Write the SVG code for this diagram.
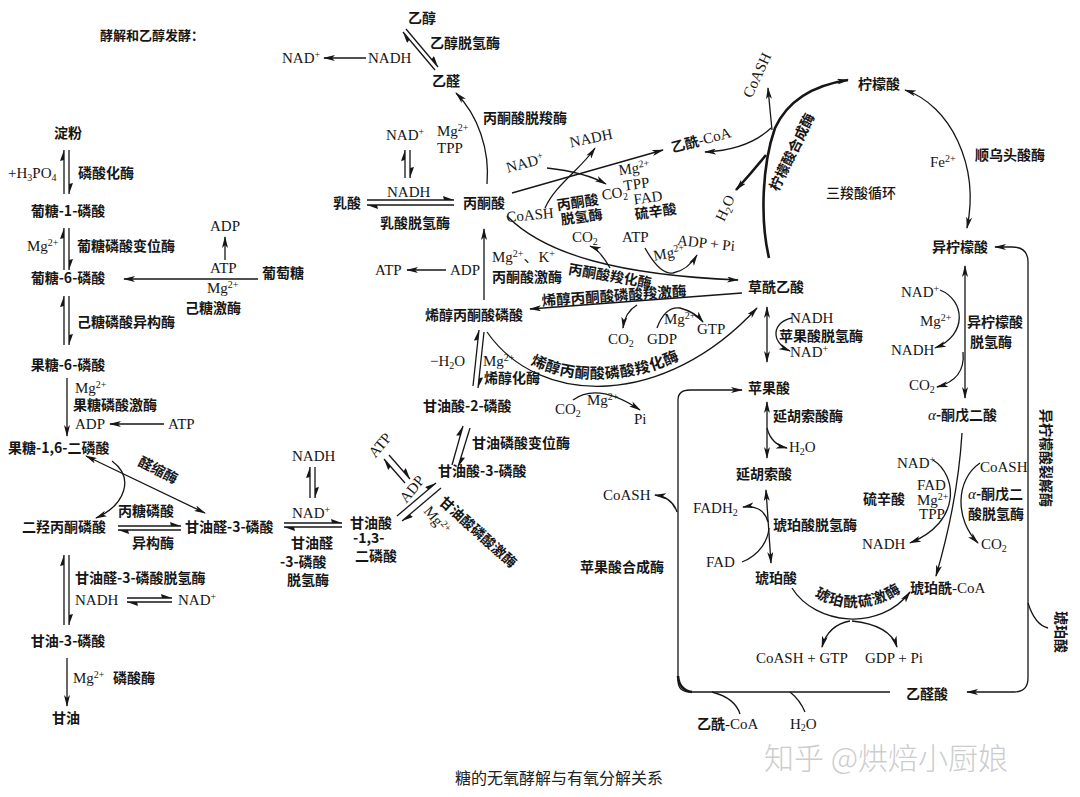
<svg xmlns="http://www.w3.org/2000/svg" width="1080" height="797" viewBox="0 0 1080 797">
<style>
.c{font-family:"Noto Sans CJK SC","Noto Sans",sans-serif;font-size:14px;font-weight:700;fill:#161616}
.l{font-family:"Liberation Serif","Noto Sans CJK SC",serif;font-size:15px;fill:#161616;font-weight:400}
.s{font-size:10px}
.m{text-anchor:middle}
.ln{fill:none;stroke:#161616;stroke-width:1.3}
.tk{fill:none;stroke:#161616;stroke-width:2.6}
.wm{font-family:"Noto Sans CJK SC",sans-serif;font-size:30px;font-weight:300;fill:#cdcdcd}
.cap{font-family:"Noto Sans CJK SC",sans-serif;font-size:16px;font-weight:400;fill:#222}
</style>
<defs>
<marker id="a" viewBox="0 0 12 6" refX="11" refY="3" markerWidth="12" markerHeight="6" markerUnits="userSpaceOnUse" orient="auto-start-reverse"><path d="M0,0 L12,3 L0,6 L3,3 Z" fill="#161616"/></marker>
<marker id="h" viewBox="0 0 11 5" refX="11" refY="4" markerWidth="11" markerHeight="5" markerUnits="userSpaceOnUse" orient="auto"><path d="M0,0 L11,4 L1,4 Z" fill="#161616"/></marker>
<path id="tp1" d="M487,329 C540,399 665,399 757,305"/>
<path id="tp2" d="M800,582 C822,614 882,618 916,578"/>
</defs>

<g id="connectors">
<path class="ln" d="M64,194 V150" marker-end="url(#h)"/>
<path class="ln" d="M69,150 V194" marker-end="url(#h)"/>
<path class="ln" d="M64,270 V228" marker-end="url(#h)"/>
<path class="ln" d="M69,228 V270" marker-end="url(#h)"/>
<path class="ln" d="M64,345 V296" marker-end="url(#h)"/>
<path class="ln" d="M69,296 V345" marker-end="url(#h)"/>
<path class="ln" d="M67,378 V436" marker-end="url(#a)"/>
<path class="ln" d="M164,424 H110" marker-end="url(#a)"/>
<path class="ln" d="M258,279 H124" marker-end="url(#a)"/>
<path class="ln" d="M225,260 V237" marker-end="url(#a)"/>
<path class="ln" d="M205,513 L86,456" marker-start="url(#a)" marker-end="url(#a)"/>
<path class="ln" d="M112,461 C135,478 125,505 96,518" marker-end="url(#a)"/>
<path class="ln" d="M118,526 H181" marker-end="url(#h)"/>
<path class="ln" d="M181,530 H118" marker-end="url(#h)"/>
<path class="ln" d="M127,598 H172" marker-end="url(#h)"/>
<path class="ln" d="M172,602 H127" marker-end="url(#h)"/>
<path class="ln" d="M64,625 V555" marker-end="url(#h)"/>
<path class="ln" d="M69,555 V625" marker-end="url(#h)"/>
<path class="ln" d="M67,658 V706" marker-end="url(#a)"/>
<path class="ln" d="M406,29 L438,67" marker-end="url(#h)"/>
<path class="ln" d="M435,70 L403,32" marker-end="url(#h)"/>
<path class="ln" d="M366,58 H324" marker-end="url(#a)"/>
<path class="ln" d="M487,184 C490,150 478,115 456,93" marker-end="url(#a)"/>
<path class="ln" d="M405,178 V150" marker-end="url(#h)"/>
<path class="ln" d="M410,150 V178" marker-end="url(#h)"/>
<path class="ln" d="M367,200 H454" marker-end="url(#h)"/>
<path class="ln" d="M454,205 H367" marker-end="url(#h)"/>
<path class="ln" d="M446,270 H407" marker-end="url(#a)"/>
<path class="ln" d="M484,300 V229" marker-end="url(#a)"/>
<path class="ln" d="M512,193 L663,150" marker-end="url(#a)"/>
<path class="ln" d="M547,168 C565,170 590,175 606,184" marker-end="url(#a)"/>
<path class="ln" d="M545,208 C555,185 580,170 595,148" marker-end="url(#a)"/>
<path class="ln" d="M507,216 C545,255 620,275 738,280" marker-end="url(#a)"/>
<path class="ln" d="M610,268 Q600,250 590,246" marker-end="url(#a)"/>
<path class="ln" d="M645,248 Q660,275 673,273 Q688,270 697,255" marker-end="url(#a)"/>
<path class="ln" d="M742,293 L530,309" marker-end="url(#a)"/>
<path class="ln" d="M637,305 Q625,312 623,328" marker-end="url(#a)"/>
<path class="ln" d="M657,328 Q665,306 680,308 Q695,312 703,322" marker-end="url(#a)"/>
<path class="ln" d="M487,332 C540,408 665,408 757,308" marker-end="url(#a)"/>
<path class="ln" d="M573,400 Q598,382 640,410" marker-end="url(#a)"/>
<path class="ln" d="M473,386 L479,330" marker-end="url(#h)"/>
<path class="ln" d="M484,332 L478,388" marker-end="url(#h)"/>
<path class="ln" d="M452,465 L463,426" marker-end="url(#h)"/>
<path class="ln" d="M470,428 L458,467" marker-end="url(#h)"/>
<path class="ln" d="M389,455 L410,479" marker-end="url(#h)"/>
<path class="ln" d="M405,483 L384,459" marker-end="url(#h)"/>
<path class="ln" d="M397,516 L436,483" marker-end="url(#h)"/>
<path class="ln" d="M441,488 L402,521" marker-end="url(#h)"/>
<path class="ln" d="M310,498 V467" marker-end="url(#h)"/>
<path class="ln" d="M315,467 V498" marker-end="url(#h)"/>
<path class="ln" d="M284,523 H342" marker-end="url(#h)"/>
<path class="ln" d="M342,527 H284" marker-end="url(#h)"/>
<path class="ln" d="M771,128 Q748,150 705,152" marker-end="url(#a)"/>
<path class="tk" d="M769,258 C760,220 762,165 775,128 C788,100 815,85 848,80" marker-end="url(#a)"/>
<path class="ln" d="M772,130 Q770,110 768,88" marker-end="url(#a)"/>
<path class="tk" d="M766,155 Q752,172 736,190" marker-end="url(#a)"/>
<path class="ln" d="M905,90 C950,105 980,165 967,228" marker-start="url(#a)" marker-end="url(#a)"/>
<path class="ln" d="M965,266 V398" marker-start="url(#a)" marker-end="url(#a)"/>
<path class="ln" d="M940,290 C965,300 968,335 935,348" marker-end="url(#a)"/>
<path class="ln" d="M963,352 C965,372 955,382 937,387" marker-end="url(#a)"/>
<path class="ln" d="M962,433 Q958,500 936,576" marker-end="url(#a)"/>
<path class="ln" d="M933,460 C957,475 962,522 910,543" marker-end="url(#a)"/>
<path class="ln" d="M980,463 C955,480 955,520 978,543" marker-end="url(#a)"/>
<path class="ln" d="M792,588 C815,625 880,632 910,592" marker-end="url(#a)"/>
<path class="ln" d="M850,621 Q828,625 822,647" marker-end="url(#a)"/>
<path class="ln" d="M852,621 Q890,625 897,647" marker-end="url(#a)"/>
<path class="ln" d="M771,563 L766,490" marker-start="url(#a)" marker-end="url(#a)"/>
<path class="ln" d="M768,522 C765,510 755,505 743,507" marker-end="url(#a)"/>
<path class="ln" d="M742,562 C760,555 768,540 769,528"/>
<path class="ln" d="M767,458 V402" marker-start="url(#a)" marker-end="url(#a)"/>
<path class="ln" d="M767,428 C770,440 778,446 787,448" marker-end="url(#a)"/>
<path class="ln" d="M767,362 V307" marker-start="url(#a)" marker-end="url(#a)"/>
<path class="ln" d="M792,318 C772,322 770,342 790,351" marker-end="url(#a)"/>
<path class="ln" d="M890,692 H690 Q678,692 678,680 V400 Q678,390 690,390 H742" marker-end="url(#a)"/>
<path class="tk" d="M678,676 Q679,690 692,692"/>
<path class="ln" d="M677,512 Q672,497 655,495" marker-end="url(#a)"/>
<path class="ln" d="M712,692 Q735,698 740,714"/>
<path class="ln" d="M790,692 Q800,700 805,712"/>
<path class="ln" d="M995,247 H1012 Q1028,247 1028,262 V678 Q1028,692 1014,692 H967" marker-start="url(#a)" marker-end="url(#a)"/>
<path class="ln" d="M1028,603 Q1035,625 1048,628"/>
</g>

<g id="title"><text class="c" x="100" y="40" style="font-size:13px">酵解和乙醇发酵：</text></g>

<g id="n-starch"><text class="c m" x="68" y="138">淀粉</text></g>
<g id="e-phosphorylase"><text class="l" x="8" y="178">+H<tspan class="s" baseline-shift="-3">3</tspan>PO<tspan class="s" baseline-shift="-3">4</tspan></text><text class="c" x="78" y="178">磷酸化酶</text></g>
<g id="n-g1p"><text class="c m" x="68" y="216">葡糖-1-磷酸</text></g>
<g id="e-pgm"><text class="l" x="27" y="251">Mg<tspan class="s" baseline-shift="super">2+</tspan></text><text class="c" x="77" y="251">葡糖磷酸变位酶</text></g>
<g id="n-g6p"><text class="c m" x="68" y="283">葡糖-6-磷酸</text></g>
<g id="n-glucose"><text class="c" x="262" y="278">葡萄糖</text></g>
<g id="e-hexokinase"><text class="l" x="210" y="273">ATP</text><text class="l" x="207" y="293">Mg<tspan class="s" baseline-shift="super">2+</tspan></text><text class="c" x="185" y="313">己糖激酶</text><text class="l" x="210" y="231">ADP</text></g>
<g id="e-pgi"><text class="c" x="77" y="327">己糖磷酸异构酶</text></g>
<g id="n-f6p"><text class="c m" x="68" y="370">果糖-6-磷酸</text></g>
<g id="e-pfk"><text class="l" x="75" y="393">Mg<tspan class="s" baseline-shift="super">2+</tspan></text><text class="c" x="73" y="410">果糖磷酸激酶</text><text class="l" x="75" y="429">ADP</text><text class="l" x="168" y="429">ATP</text></g>
<g id="n-fbp"><text class="c" x="8" y="453">果糖-1,6-二磷酸</text></g>
<g id="e-aldolase"><text class="c m" x="158" y="475" transform="rotate(27 158 470)">醛缩酶</text></g>
<g id="e-tpi"><text class="c" x="118" y="516">丙糖磷酸</text><text class="c" x="132" y="548">异构酶</text></g>
<g id="n-dhap"><text class="c" x="22" y="532">二羟丙酮磷酸</text></g>
<g id="n-gap"><text class="c" x="185" y="532">甘油醛-3-磷酸</text></g>
<g id="e-g3pdh"><text class="c" x="75" y="583">甘油醛-3-磷酸脱氢酶</text><text class="l" x="75" y="605">NADH</text><text class="l" x="178" y="605">NAD<tspan class="s" baseline-shift="super">+</tspan></text></g>
<g id="n-g3p"><text class="c m" x="68" y="646">甘油-3-磷酸</text></g>
<g id="e-phosphatase"><text class="l" x="73" y="683">Mg<tspan class="s" baseline-shift="super">2+</tspan></text><text class="c" x="113" y="683">磷酸酶</text></g>
<g id="n-glycerol"><text class="c" x="52" y="723">甘油</text></g>

<g id="n-ethanol"><text class="c" x="408" y="23">乙醇</text></g>
<g id="e-adh"><text class="c" x="430" y="48">乙醇脱氢酶</text><text class="l" x="282" y="63">NAD<tspan class="s" baseline-shift="super">+</tspan></text><text class="l" x="368" y="63">NADH</text></g>
<g id="n-acetaldehyde"><text class="c" x="432" y="86">乙醛</text></g>
<g id="e-pdc"><text class="c" x="483" y="123">丙酮酸脱羧酶</text><text class="l" x="437" y="136">Mg<tspan class="s" baseline-shift="super">2+</tspan></text><text class="l" x="437" y="153">TPP</text></g>
<g id="e-ldh"><text class="l" x="386" y="140">NAD<tspan class="s" baseline-shift="super">+</tspan></text><text class="l" x="387" y="197">NADH</text><text class="c" x="380" y="228">乳酸脱氢酶</text></g>
<g id="n-lactate"><text class="c" x="333" y="208">乳酸</text></g>
<g id="n-pyruvate"><text class="c" x="463" y="208">丙酮酸</text></g>
<g id="e-pk"><text class="l" x="375" y="275">ATP</text><text class="l" x="450" y="275">ADP</text><text class="l" x="492" y="262">Mg<tspan class="s" baseline-shift="super">2+</tspan>、K<tspan class="s" baseline-shift="super">+</tspan></text><text class="c" x="492" y="282">丙酮酸激酶</text></g>
<g id="n-pep"><text class="c" x="425" y="320">烯醇丙酮酸磷酸</text></g>
<g id="e-enolase"><text class="l" x="430" y="366">−H<tspan class="s" baseline-shift="-3">2</tspan>O</text><text class="l" x="483" y="366">Mg<tspan class="s" baseline-shift="super">2+</tspan></text><text class="c" x="484" y="383">烯醇化酶</text></g>
<g id="n-2pg"><text class="c" x="423" y="411">甘油酸-2-磷酸</text></g>
<g id="e-pgam"><text class="c" x="472" y="448">甘油磷酸变位酶</text></g>
<g id="n-3pg"><text class="c" x="438" y="476">甘油酸-3-磷酸</text></g>
<g id="e-pgk"><text class="l m" x="380" y="450" transform="rotate(-50 380 445)">ATP</text><text class="l m" x="412" y="494" transform="rotate(-50 412 489)">ADP</text><text class="c m" x="478" y="537" transform="rotate(42 478 532)">甘油酸磷酸激酶</text><text class="l m" x="437" y="525" transform="rotate(50 437 520)">Mg<tspan class="s" baseline-shift="super">2+</tspan></text></g>
<g id="n-13bpg"><text class="c" x="350" y="528">甘油酸</text><text class="c" x="353" y="543">-1,3-</text><text class="c" x="355" y="561">二磷酸</text></g>
<g id="e-gapdh"><text class="l" x="292" y="461">NADH</text><text class="l" x="292" y="518">NAD<tspan class="s" baseline-shift="super">+</tspan></text><text class="c" x="291" y="548">甘油醛</text><text class="c" x="280" y="567">-3-磷酸</text><text class="c" x="287" y="585">脱氢酶</text></g>

<g id="n-acetylcoa"><text class="c m" x="701" y="145" transform="rotate(-15 701 140)">乙酰<tspan class="l">-CoA</tspan></text></g>
<g id="e-pdh"><text class="l m" x="525" y="168" transform="rotate(-15 525 163)">NAD<tspan class="s" baseline-shift="super">+</tspan></text><text class="l m" x="591" y="143" transform="rotate(-12 591 138)">NADH</text><text class="l m" x="530" y="220" transform="rotate(-5 530 215)">CoASH</text>
<g transform="rotate(-8 630 195)"><text class="c" x="556" y="200">丙酮酸</text><text class="c" x="558" y="215">脱氢酶</text><text class="l" x="602" y="196">CO<tspan class="s" baseline-shift="-3">2</tspan></text><text class="l" x="625" y="190">TPP</text><text class="l" x="622" y="174">Mg<tspan class="s" baseline-shift="super">2+</tspan></text><text class="l" x="633" y="205">FAD</text><text class="c" x="632" y="220">硫辛酸</text></g></g>
<g id="e-pc"><text class="c m" x="610" y="281" transform="rotate(10 610 276)">丙酮酸羧化酶</text><text class="l" x="572" y="242">CO<tspan class="s" baseline-shift="-3">2</tspan></text><text class="l" x="622" y="242">ATP</text><text class="l m" x="706" y="248" transform="rotate(6 706 243)">ADP + Pi</text><text class="l m" x="669" y="258" transform="rotate(-10 669 253)">Mg<tspan class="s" baseline-shift="super">2+</tspan></text></g>
<g id="n-oaa"><text class="c" x="748" y="292">草酰乙酸</text></g>
<g id="e-pepck"><text class="c m" x="614" y="301" transform="rotate(-4 614 296)" style="font-size:14.5px">烯醇丙酮酸磷酸羧激酶</text><text class="l" x="608" y="344">CO<tspan class="s" baseline-shift="-3">2</tspan></text><text class="l" x="647" y="344">GDP</text><text class="l" x="664" y="324">Mg<tspan class="s" baseline-shift="super">2+</tspan></text><text class="l" x="697" y="334">GTP</text></g>
<g id="e-pepc"><text class="c" style="font-size:15px;letter-spacing:0.5px"><textPath href="#tp1" startOffset="56">烯醇丙酮酸磷酸羧化酶</textPath></text><text class="l" x="555" y="414">CO<tspan class="s" baseline-shift="-3">2</tspan></text><text class="l" x="587" y="405">Mg<tspan class="s" baseline-shift="super">2+</tspan></text><text class="l" x="634" y="424">Pi</text></g>

<g id="e-cs"><text class="l m" x="757" y="80" transform="rotate(-65 757 75)">CoASH</text><text class="l m" x="725" y="213" transform="rotate(-65 725 208)">H<tspan class="s" baseline-shift="-3">2</tspan>O</text><text class="c m" x="792" y="157" transform="rotate(-64 792 152)">柠檬酸合成酶</text></g>
<g id="n-citrate"><text class="c" x="858" y="89">柠檬酸</text></g>
<g id="e-aconitase"><text class="l" x="930" y="167">Fe<tspan class="s" baseline-shift="super">2+</tspan></text><text class="c" x="975" y="160">顺乌头酸酶</text></g>
<g id="lbl-tca"><text class="c" x="826" y="198" style="font-weight:500">三羧酸循环</text></g>
<g id="n-isocitrate"><text class="c" x="932" y="252">异柠檬酸</text></g>
<g id="e-idh"><text class="l" x="901" y="297">NAD<tspan class="s" baseline-shift="super">+</tspan></text><text class="l" x="920" y="326">Mg<tspan class="s" baseline-shift="super">2+</tspan></text><text class="l" x="891" y="355">NADH</text><text class="l" x="909" y="390">CO<tspan class="s" baseline-shift="-3">2</tspan></text><text class="c" x="967" y="327">异柠檬酸</text><text class="c" x="970" y="347">脱氢酶</text></g>
<g id="n-akg"><text class="c" x="928" y="420"><tspan class="l" style="font-style:italic">α</tspan>-酮戊二酸</text></g>
<g id="e-akgdh"><text class="l" x="897" y="468">NAD<tspan class="s" baseline-shift="super">+</tspan></text><text class="l" x="917" y="490">FAD</text><text class="c" x="863" y="504">硫辛酸</text><text class="l" x="917" y="505">Mg<tspan class="s" baseline-shift="super">2+</tspan></text><text class="l" x="919" y="519">TPP</text><text class="l" x="980" y="472">CoASH</text><text class="c" x="968" y="499"><tspan class="l" style="font-style:italic">α</tspan>-酮戊二</text><text class="c" x="968" y="519">酸脱氢酶</text><text class="l" x="862" y="549">NADH</text><text class="l" x="981" y="549">CO<tspan class="s" baseline-shift="-3">2</tspan></text></g>
<g id="n-succoa"><text class="c" x="910" y="593">琥珀酰<tspan class="l">-CoA</tspan></text></g>
<g id="e-scs"><text class="c" style="font-size:14.5px;letter-spacing:1px"><textPath href="#tp2" startOffset="20">琥珀酰硫激酶</textPath></text><text class="l" x="756" y="663">CoASH + GTP</text><text class="l" x="865" y="663">GDP + Pi</text></g>
<g id="n-succinate"><text class="c" x="755" y="583">琥珀酸</text></g>
<g id="e-sdh"><text class="l" x="693" y="513">FADH<tspan class="s" baseline-shift="-3">2</tspan></text><text class="c" x="773" y="530">琥珀酸脱氢酶</text><text class="l" x="706" y="567">FAD</text></g>
<g id="n-fumarate"><text class="c" x="736" y="479">延胡索酸</text></g>
<g id="e-fumarase"><text class="c" x="773" y="421">延胡索酸酶</text><text class="l" x="789" y="452">H<tspan class="s" baseline-shift="-3">2</tspan>O</text></g>
<g id="n-malate"><text class="c" x="748" y="393">苹果酸</text></g>
<g id="e-mdh"><text class="l" x="790" y="323">NADH</text><text class="c" x="779" y="341">苹果酸脱氢酶</text><text class="l" x="790" y="357">NAD<tspan class="s" baseline-shift="super">+</tspan></text></g>
<g id="e-ms"><text class="l" x="603" y="500">CoASH</text><text class="c" x="580" y="572">苹果酸合成酶</text><text class="c" x="697" y="729">乙酰<tspan class="l">-CoA</tspan></text><text class="l" x="790" y="729">H<tspan class="s" baseline-shift="-2">2</tspan>O</text></g>
<g id="n-glyoxylate"><text class="c" x="906" y="699">乙醛酸</text></g>
<g id="e-icl"><text class="c m" x="1046" y="463" transform="rotate(90 1046 458)">异柠檬酸裂解酶</text><text class="c m" x="1061" y="637" transform="rotate(90 1061 632)">琥珀酸</text></g>

<g id="watermark"><text class="wm" x="764" y="769">知乎 @烘焙小厨娘</text></g>
<g id="caption"><text class="cap" x="455" y="784">糖的无氧酵解与有氧分解关系</text></g>
</svg>
